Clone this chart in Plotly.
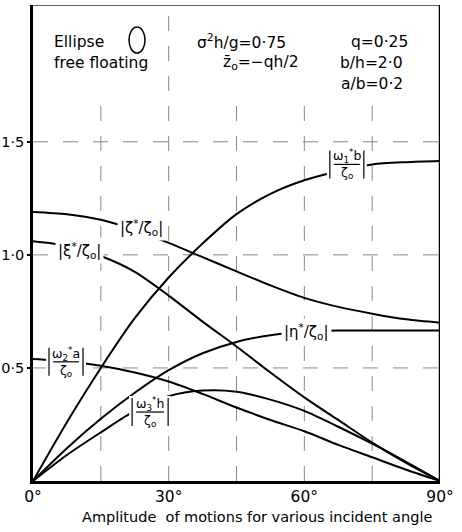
import plotly.graph_objects as go

# ---- data ----
angle = [0, 7.5, 15, 22.5, 30, 37.5, 45, 52.5, 60, 67.5, 75, 82.5, 90]
w1b   = [0, 0.26, 0.50, 0.72, 0.90, 1.05, 1.18, 1.27, 1.33, 1.37, 1.40, 1.41, 1.415]
heave = [1.19, 1.18, 1.155, 1.11, 1.053, 0.99, 0.927, 0.865, 0.81, 0.77, 0.74, 0.715, 0.70]
surge = [1.06, 1.04, 0.995, 0.925, 0.82, 0.705, 0.595, 0.48, 0.37, 0.27, 0.17, 0.08, 0.0]
sway  = [0, 0.145, 0.275, 0.39, 0.49, 0.565, 0.615, 0.645, 0.66, 0.665, 0.665, 0.665, 0.665]
w3h   = [0, 0.115, 0.215, 0.31, 0.375, 0.40, 0.395, 0.36, 0.31, 0.24, 0.165, 0.085, 0.0]
w2a   = [0.54, 0.53, 0.51, 0.48, 0.44, 0.385, 0.325, 0.27, 0.22, 0.16, 0.105, 0.05, 0.0]

series = [w1b, heave, surge, sway, w3h, w2a]

x_ticks = [0, 30, 60, 90]
x_ticktext = ["0°", "30°", "60°", "90°"]
y_ticks = [0.5, 1.0, 1.5]
y_ticktext = ["0·5", "1·0", "1·5"]
grid_x = [15, 30, 45, 60, 75]
grid_y = [0.5, 1.0, 1.5]

Y_TOP = 2.105
GRID_X_TOP = 1.66

FONT = "DejaVu Sans"

fig = go.Figure()
for s in series:
    fig.add_trace(go.Scatter(x=angle, y=s, mode="lines",
                             line=dict(color="black", width=2, shape="spline", smoothing=0.8),
                             hoverinfo="skip", showlegend=False))

shapes = []
# grid
for gx in grid_x:
    top = Y_TOP if gx == 30 else GRID_X_TOP
    shapes.append(dict(type="line", xref="x", yref="y", x0=gx, x1=gx, y0=0, y1=top,
                       line=dict(color="#888", width=1, dash="longdash"), layer="below"))
for gy in grid_y:
    shapes.append(dict(type="line", xref="x", yref="y", x0=0, x1=90, y0=gy, y1=gy,
                       line=dict(color="#888", width=1, dash="longdash"), layer="below"))
# frame top / right
shapes.append(dict(type="line", xref="x", yref="y", x0=0, x1=90, y0=Y_TOP, y1=Y_TOP,
                   line=dict(color="#333", width=1.5), layer="above"))
shapes.append(dict(type="line", xref="x", yref="y", x0=90, x1=90, y0=0, y1=Y_TOP,
                   line=dict(color="black", width=2.5), layer="above"))
# ellipse glyph in header
shapes.append(dict(type="circle", xref="x", yref="y", xsizemode="pixel", ysizemode="pixel",
                   xanchor=23, yanchor=1.95, x0=-8, x1=8, y0=-13, y1=13,
                   line=dict(color="black", width=1.5), layer="above"))

annotations = []

# inline labels
inline_labels = [
    (23.9, 1.12, "|ζ<sup>*</sup>/ζ<sub>o</sub>|"),
    (10.2, 1.02, "|ξ<sup>*</sup>/ζ<sub>o</sub>|"),
    (60.4, 0.66, "|η<sup>*</sup>/ζ<sub>o</sub>|"),
]
for x, y, t in inline_labels:
    annotations.append(dict(x=x, y=y, xref="x", yref="y", text=t, showarrow=False,
                            font=dict(family=FONT, size=15, color="black"),
                            bgcolor="white", borderpad=2))

# fraction labels: (x, y, numerator, denominator, half-width px)
frac_labels = [
    (69.4, 1.40, "ω<sub>1</sub><sup>*</sup>b", "ζ<sub>o</sub>", 17),
    (7.3, 0.527, "ω<sub>2</sub><sup>*</sup>a", "ζ<sub>o</sub>", 17),
    (25.9, 0.305, "ω<sub>3</sub><sup>*</sup>h", "ζ<sub>o</sub>", 18),
]
for x, y, num, den, hw in frac_labels:
    shapes.append(dict(type="rect", xref="x", yref="y", xsizemode="pixel", ysizemode="pixel",
                       xanchor=x, yanchor=y, x0=-hw - 3, x1=hw + 3, y0=-16, y1=16,
                       fillcolor="white", line=dict(width=0), layer="above"))
    shapes.append(dict(type="line", xref="x", yref="y", xsizemode="pixel", ysizemode="pixel",
                       xanchor=x, yanchor=y, x0=-hw + 4, x1=hw - 4, y0=0, y1=0,
                       line=dict(color="black", width=1.2), layer="above"))
    for sx in (-hw, hw):
        shapes.append(dict(type="line", xref="x", yref="y", xsizemode="pixel", ysizemode="pixel",
                           xanchor=x, yanchor=y, x0=sx, x1=sx, y0=-14, y1=14,
                           line=dict(color="black", width=1.2), layer="above"))
    annotations.append(dict(x=x, y=y, xref="x", yref="y", text=num + "<br>" + den,
                            showarrow=False, yanchor="middle", yshift=0,
                            font=dict(family=FONT, size=12.5, color="black")))

# header texts
header = [
    (4.2, 1.942, "Ellipse", "left"),
    (4.2, 1.85, "free floating", "left"),
    (35.8, 1.942, "σ<sup>2</sup>h/g=0·75", "left"),
    (41.5, 1.85, "z̄<sub>o</sub>=−qh/2", "left"),
    (83.4, 1.942, "q=0·25", "right"),
    (82.3, 1.85, "b/h=2·0", "right"),
    (82.3, 1.757, "a/b=0·2", "right"),
]
for x, y, t, anc in header:
    annotations.append(dict(x=x, y=y, xref="x", yref="y", text=t, showarrow=False,
                            xanchor=anc, font=dict(family=FONT, size=15.5, color="black")))

# x-axis title
annotations.append(dict(x=49.5, y=0, xref="x", yref="paper", yshift=-36, yanchor="middle",
                        text="Amplitude  of motions for various incident angle",
                        showarrow=False, font=dict(family=FONT, size=14.5, color="black")))

fig.update_layout(
    width=462, height=532,
    margin=dict(l=33, r=22, t=5, b=51),
    paper_bgcolor="white", plot_bgcolor="white",
    shapes=shapes, annotations=annotations,
    xaxis=dict(range=[0, 90], tickvals=x_ticks, ticktext=x_ticktext, showgrid=False,
               zeroline=False, showline=True, linecolor="black", linewidth=2.5,
               ticks="", automargin=False,
               tickfont=dict(family=FONT, size=15.5, color="black")),
    yaxis=dict(range=[0, Y_TOP], tickvals=y_ticks, ticktext=y_ticktext, showgrid=False,
               zeroline=False, showline=True, linecolor="black", linewidth=2.5,
               ticks="outside", ticklen=3, tickwidth=1.5, tickcolor="black", automargin=False,
               tickfont=dict(family=FONT, size=14.5, color="black")),
)

fig.write_html("out.html")
